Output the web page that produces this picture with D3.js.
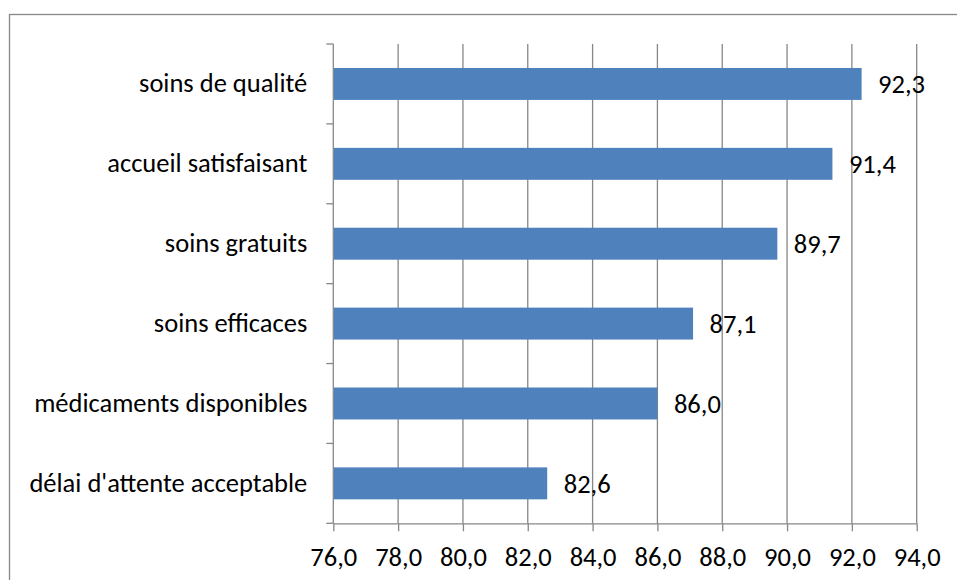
<!DOCTYPE html>
<html>
<head>
<meta charset="utf-8">
<script src="https://cdn.jsdelivr.net/npm/d3@7"></script>
<style>
  html, body { margin: 0; padding: 0; background: #fff; }
  svg { display: block; }
  text { font-family: Carlito, Calibri, "Open Sans", sans-serif; fill: #000; }
</style>
</head>
<body>
<svg id="chart" width="957" height="580"></svg>
<script>
// Satisfaction indicators (%), listed top to bottom
const categories = [
  "soins de qualité",
  "accueil satisfaisant",
  "soins gratuits",
  "soins efficaces",
  "médicaments disponibles",
  "délai d'attente acceptable"
];
const values = [92.3, 91.4, 89.7, 87.1, 86.0, 82.6];
const xTicks = [76, 78, 80, 82, 84, 86, 88, 90, 92, 94];

const svg = d3.select("#chart");
const W = 957, H = 580;
const plot = { left: 333.3, right: 916.7, top: 44, bottom: 523.3 };
const gridColor = "#878787";
const fontSize = 26.5;
const fontFamily = 'Carlito, Calibri, "Open Sans", sans-serif';

const fr = d3.formatLocale({ decimal: ",", thousands: " ", grouping: [3], currency: ["", " €"] });
const fmt = fr.format(".1f");

const x = d3.scaleLinear().domain([xTicks[0], xTicks[xTicks.length - 1]]).range([plot.left, plot.right]);
const y = d3.scaleBand().domain(categories).range([plot.top, plot.bottom])
  .paddingInner(0.6).paddingOuter(0.3);

// chart frame
svg.append("rect")
  .attr("x", 9.5).attr("y", 14.5)
  .attr("width", W + 20).attr("height", H + 20)
  .attr("fill", "none").attr("stroke", gridColor).attr("stroke-width", 1.3);

// vertical gridlines
svg.append("g").selectAll("line")
  .data(xTicks.slice(1))
  .join("line")
  .attr("x1", d => x(d)).attr("x2", d => x(d))
  .attr("y1", plot.top).attr("y2", plot.bottom)
  .attr("stroke", gridColor).attr("stroke-width", 1.3);

// bars
svg.append("g").selectAll("rect")
  .data(categories)
  .join("rect")
  .attr("x", x(xTicks[0]))
  .attr("y", d => y(d))
  .attr("width", (d, i) => x(values[i]) - x(xTicks[0]))
  .attr("height", y.bandwidth())
  .attr("fill", "#4F81BD");

// value axis
const xAxis = svg.append("g")
  .attr("transform", `translate(0,${plot.bottom})`)
  .call(d3.axisBottom(x).tickValues(xTicks).tickFormat(fmt).tickSize(8).tickSizeOuter(0));
xAxis.select(".domain").attr("stroke", gridColor).attr("stroke-width", 1.3);
xAxis.selectAll(".tick line").attr("stroke", gridColor).attr("stroke-width", 1.3);
xAxis.selectAll(".tick text")
  .attr("y", 42.4)
  .attr("dy", 0)
  .attr("font-size", fontSize)
  .style("font-family", fontFamily)
  .attr("fill", "#000");

// category axis
const yAxis = svg.append("g")
  .attr("transform", `translate(${plot.left},0)`)
  .call(d3.axisLeft(y).tickSize(0).tickPadding(26).tickSizeOuter(0));
yAxis.select(".domain").attr("stroke", gridColor).attr("stroke-width", 1.3)
  .attr("d", `M0,${plot.top}V${plot.bottom}`);
yAxis.selectAll(".tick text")
  .attr("font-size", fontSize)
  .style("font-family", fontFamily)
  .attr("fill", "#000");

// tick marks between categories
const bounds = categories.map(c => y(c) - (y.step() - y.bandwidth()) / 2).concat([plot.bottom]);
yAxis.append("g").selectAll("line")
  .data(bounds)
  .join("line")
  .attr("x1", -7).attr("x2", 0)
  .attr("y1", d => d).attr("y2", d => d)
  .attr("stroke", gridColor).attr("stroke-width", 1.3);

// value labels
svg.append("g").selectAll("text")
  .data(categories)
  .join("text")
  .attr("x", (d, i) => x(values[i]) + 16.5)
  .attr("y", d => y(d) + y.bandwidth() / 2)
  .attr("dy", "0.35em")
  .attr("font-size", fontSize)
  .text((d, i) => fmt(values[i]));
</script>
</body>
</html>
